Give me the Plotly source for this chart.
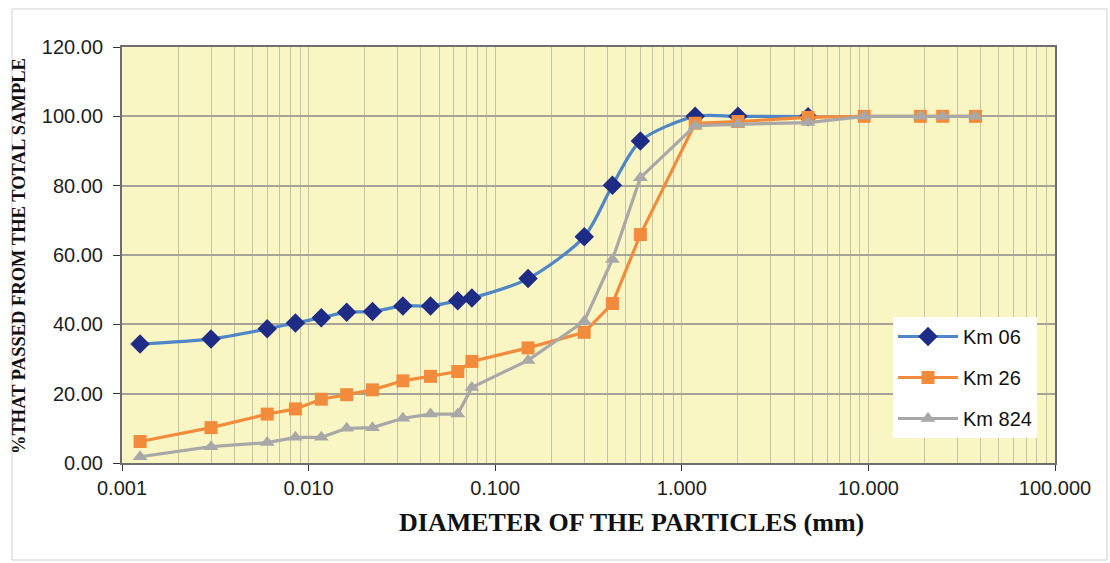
import plotly.graph_objects as go
import math

# ---------------- data ----------------
diam_mm = [0.00125, 0.003, 0.006, 0.0085, 0.0117, 0.016, 0.022, 0.032, 0.045, 0.063,
           0.075, 0.15, 0.3, 0.425, 0.6, 1.18, 2.0, 4.75, 9.5, 19.0, 25.0, 37.5]
km06 = [34.3, 35.8, 38.7, 40.4, 41.9, 43.5, 43.7, 45.3, 45.3, 46.8,
        47.6, 53.2, 65.3, 80.1, 92.9, 100.0, 100.0, 99.9]
km26 = [6.2, 10.2, 14.1, 15.6, 18.4, 19.7, 21.1, 23.7, 25.0, 26.4,
        29.3, 33.2, 37.7, 46.0, 65.9, 98.0, 98.5, 99.7, 100.0, 100.0, 100.0, 100.0]
km824 = [1.8, 4.7, 5.9, 7.4, 7.4, 10.0, 10.2, 12.9, 14.1, 14.1,
         21.8, 29.6, 40.9, 58.7, 82.3, 97.3, 97.7, 98.2, 100.0, 100.0, 100.0, 100.0]

x_tickvals = [0.001, 0.01, 0.1, 1, 10, 100]
x_ticktext = ["0.001", "0.010", "0.100", "1.000", "10.000", "100.000"]
y_tickvals = [0, 20, 40, 60, 80, 100, 120]

# ---------------- figure ----------------
W, H = 1110, 563
L, R, T, B = 122, 55, 47, 100

fig = go.Figure()
fig.add_trace(go.Scatter(
    x=diam_mm[:len(km06)], y=km06, name="Km 06", mode="lines+markers",
    legendgroup="a",
    line=dict(color="#4F86C6", width=3.2, shape="spline", smoothing=0.8),
    marker=dict(symbol="diamond", size=15, color="#1F2C86")))
fig.add_trace(go.Scatter(
    x=diam_mm, y=km26, name="Km 26", mode="lines+markers", legendgroup="b",
    line=dict(color="#F28C3C", width=3.2),
    marker=dict(symbol="square", size=13, color="#F28C3C")))
fig.add_trace(go.Scatter(
    x=diam_mm, y=km824, name="Km 824", mode="lines+markers", legendgroup="c",
    line=dict(color="#A8A8A8", width=3.2),
    marker=dict(symbol="triangle-up", size=13, color="#A8A8A8")))

minor_vals = [m * 10 ** e for e in range(-3, 2) for m in range(2, 10)]

fig.update_xaxes(
    type="log", range=[-3, 2],
    tickvals=x_tickvals, ticktext=x_ticktext,
    ticks="outside", ticklen=6, tickcolor="#333333",
    showgrid=True, gridcolor="#C6C3AC", gridwidth=1,
    minor=dict(tickvals=minor_vals, showgrid=True, gridcolor="#C6C3AC",
               gridwidth=1, ticks=""),
    showline=True, linecolor="#6E6E6E", linewidth=2, mirror=True,
    tickfont=dict(family="Liberation Sans, Arial", size=20, color="#1E1E1E"),
    zeroline=False,
)
fig.update_yaxes(
    range=[0, 120], tickvals=y_tickvals, tickformat=".2f",
    ticks="outside", ticklen=7, tickcolor="#333333",
    showgrid=True, gridcolor="#A6A496", gridwidth=1.5,
    showline=True, linecolor="#6E6E6E", linewidth=2, mirror=True,
    tickfont=dict(family="Liberation Sans, Arial", size=20, color="#1E1E1E"),
    ticklabelstandoff=6,
    zeroline=False,
)

pw = W - L - R
ph = H - T - B


def px_x(p):
    return (p - L) / pw


def px_y(p):
    return (H - B - p) / ph


fig.add_annotation(
    text="<b>DIAMETER OF THE PARTICLES (mm)</b>", xref="paper", yref="paper",
    x=px_x(631), y=px_y(522), showarrow=False, xanchor="center", yanchor="middle",
    font=dict(family="Liberation Serif, Times New Roman", size=26, color="#111111"))
fig.add_annotation(
    text="<b>%THAT PASSED FROM THE TOTAL SAMPLE</b>", xref="paper", yref="paper",
    x=px_x(19), y=px_y(256), showarrow=False, textangle=-90,
    xanchor="center", yanchor="middle",
    font=dict(family="Liberation Serif, Times New Roman", size=18.5, color="#111111"))

fig.add_shape(type="rect", xref="paper", yref="paper",
              x0=px_x(12), x1=px_x(1107), y0=px_y(560), y1=px_y(9),
              line=dict(color="#CFCFCF", width=1), layer="below")

fig.update_layout(
    width=W, height=H,
    margin=dict(l=L, r=R, t=T, b=B),
    paper_bgcolor="white", plot_bgcolor="#FAF6C4",
    legend=dict(x=px_x(893), y=px_y(317), xanchor="left", yanchor="top",
                bgcolor="white", borderwidth=0, tracegroupgap=12,
                itemwidth=60,
                font=dict(family="Liberation Sans, Arial", size=20, color="#111111")),
    showlegend=True,
)

fig.write_html("out.html")
